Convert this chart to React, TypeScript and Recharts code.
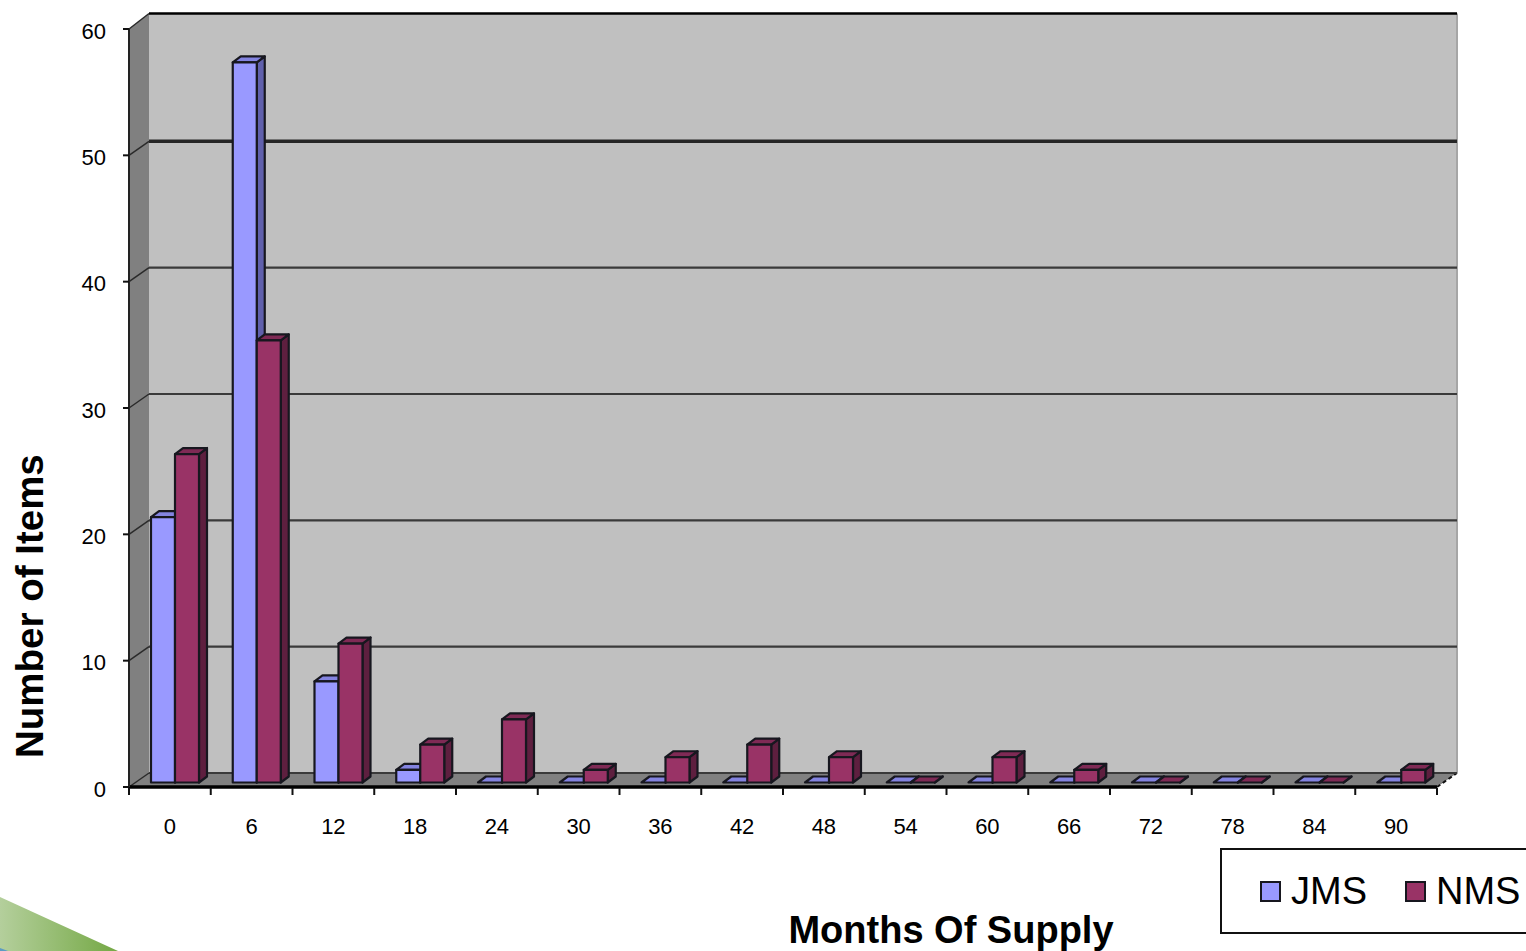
import { BarChart, Bar, XAxis, YAxis, Legend, ReferenceArea, ReferenceLine } from 'recharts';

const months = ['0', '6', '12', '18', '24', '30', '36', '42', '48', '54', '60', '66', '72', '78', '84', '90'];
const jms = [21, 57, 8, 1, 0, 0, 0, 0, 0, 0, 0, 0, 0, 0, 0, 0];
const nms = [26, 35, 11, 3, 5, 1, 2, 3, 2, 0, 2, 1, 0, 0, 0, 1];
const yTicks = [0, 10, 20, 30, 40, 50, 60];

const data = months.map((month, i) => ({ month, JMS: jms[i], NMS: nms[i] }));

const FONT = '"Liberation Sans", Arial, sans-serif';
const WIDTH = 1526;
const HEIGHT = 951;
const PLOT_LEFT = 129;
const PLOT_RIGHT = 1437;
const BAND = (PLOT_RIGHT - PLOT_LEFT) / months.length;

// depth of the chart box, and of a bar standing inside it
const WALL_DX = 20;
const WALL_DY = -14;
const TOP_DY = -15.5;
const BAR_DX = 8;
const BAR_DY = -6;
const BAR_SHIFT_X = 5;
const BAR_SHIFT_Y = -4.5;

const pts = (...p: number[][]) => p.map((q) => q.join(',')).join(' ');

const Box3D = ({ x, y, width, height }: any) => {
  const right = x + width;
  const bottom = y + height;
  return (
    <g>
      <polygon points={pts([x + WALL_DX, y + TOP_DY], [right + WALL_DX, y + TOP_DY], [right + WALL_DX, bottom + WALL_DY], [x + WALL_DX, bottom + WALL_DY])} fill="#c0c0c0" />
      <polygon points={pts([x, y], [x + WALL_DX, y + TOP_DY], [x + WALL_DX, bottom + WALL_DY], [x, bottom])} fill="#808080" />
      <polygon points={pts([x, bottom], [x + WALL_DX, bottom + WALL_DY], [right + WALL_DX, bottom + WALL_DY], [right, bottom])} fill="#808080" />
      <line x1={right + WALL_DX} y1={y + TOP_DY} x2={right + WALL_DX} y2={bottom + WALL_DY} stroke="#a6a6a6" strokeWidth={2} />
      <line x1={right} y1={bottom} x2={right + WALL_DX} y2={bottom + WALL_DY} stroke="#111" strokeWidth={2} strokeDasharray="4 3" />
    </g>
  );
};

// one gridline: runs back across the side wall, then along the rear wall
const gridLine = (value: number) => ({ x1, y1, x2 }: any) => {
  const dy = value === 60 ? TOP_DY : WALL_DY;
  const color = value === 60 ? '#000' : value === 50 ? '#262626' : '#3a3a3a';
  const w = value === 60 ? 2.5 : value === 50 ? 3.5 : 2.2;
  return (
    <g>
      <line x1={x1} y1={y1} x2={x1 + WALL_DX} y2={y1 + dy} stroke="#2a2a2a" strokeWidth={1.5} />
      <line x1={x1 + WALL_DX} y1={y1 + dy} x2={x2 + WALL_DX} y2={y1 + dy} stroke={color} strokeWidth={w} />
    </g>
  );
};

const Bar3D = ({ x, y, width, height, fill, topFill, sideFill }: any) => {
  const x0 = x + BAR_SHIFT_X;
  const y0 = y + BAR_SHIFT_Y;
  const x1 = x0 + width;
  const y1 = y0 + height;
  const edge = { stroke: '#17171f', strokeWidth: 2.2, strokeLinejoin: 'round' as const };
  return (
    <g>
      <polygon points={pts([x1, y0], [x1 + BAR_DX, y0 + BAR_DY], [x1 + BAR_DX, y1 + BAR_DY], [x1, y1])} fill={sideFill} {...edge} />
      <polygon points={pts([x0, y0], [x0 + BAR_DX, y0 + BAR_DY], [x1 + BAR_DX, y0 + BAR_DY], [x1, y0])} fill={topFill} {...edge} />
      {height > 0 && <rect x={x0} y={y0} width={width} height={height} fill={fill} {...edge} />}
    </g>
  );
};

// category labels sit mid-band, tick marks on the band edges
const XTick = ({ x, payload, index }: any) => (
  <g>
    {index === 0 && <line x1={x - BAND / 2} y1={788} x2={x - BAND / 2} y2={795} stroke="#111" strokeWidth={2} />}
    <line x1={x + BAND / 2} y1={788} x2={x + BAND / 2} y2={795} stroke="#111" strokeWidth={2} />
    <text x={x} y={834} textAnchor="middle" fontSize={22} fontFamily={FONT} fill="#000">
      {payload.value}
    </text>
  </g>
);

const YTick = ({ x, y, payload }: any) => (
  <text x={x} y={y + 9.5} textAnchor="end" fontSize={22} fontFamily={FONT} fill="#000">
    {payload.value}
  </text>
);

const LegendBox = ({ payload }: any) => (
  <div
    style={{
      boxSizing: 'border-box',
      width: 320,
      height: 86,
      border: '2px solid #111',
      background: '#fff',
      display: 'flex',
      alignItems: 'center',
      paddingLeft: 38,
      fontFamily: FONT,
      fontSize: 38,
      color: '#000',
    }}
  >
    {(payload || []).map((entry: any, i: number) => (
      <div key={entry.value} style={{ display: 'flex', alignItems: 'center', marginLeft: i === 0 ? 0 : 38 }}>
        <span style={{ boxSizing: 'border-box', width: 21, height: 21, background: entry.color, border: '2px solid #17171f', marginRight: i === 0 ? 10 : 10 }} />
        <span>{entry.value}</span>
      </div>
    ))}
  </div>
);

const Swoosh = () => (
  <svg width={130} height={60} style={{ position: 'absolute', left: 0, top: HEIGHT - 60 }}>
    <defs>
      <linearGradient id="swoosh" x1="0" x2="1" y1="0" y2="0">
        <stop offset="0" stopColor="#b4cf9c" />
        <stop offset="1" stopColor="#74a844" />
      </linearGradient>
    </defs>
    <polygon points="0,6 118,60 0,60" fill="url(#swoosh)" />
    <polygon points="0,57 8,60 0,60" fill="#5b9bc4" />
  </svg>
);

export default function App() {
  return (
    <div style={{ position: 'absolute', left: 0, top: 0, width: WIDTH, height: HEIGHT, overflow: 'hidden', background: '#fff' }}>
      <Swoosh />
      <BarChart width={WIDTH} height={HEIGHT} data={data} margin={{ top: 29, right: WIDTH - PLOT_RIGHT, bottom: 0, left: 0 }} barSize={24} barGap={0} style={{ position: 'absolute' }}>
        <ReferenceArea y1={0} y2={60} shape={Box3D} ifOverflow="visible" />
        {yTicks.map((t) => (
          <ReferenceLine key={t} y={t} shape={gridLine(t)} ifOverflow="visible" zIndex={200} />
        ))}
        <XAxis
          dataKey="month"
          height={164}
          interval={0}
          tickLine={false}
          tick={XTick}
          axisLine={{ stroke: '#000', strokeWidth: 3.5 }}
          label={{ value: 'Months Of Supply', position: 'insideBottom', offset: 8, dx: 168, fontSize: 38, fontWeight: 700, fontFamily: FONT, fill: '#000' }}
        />
        <YAxis
          width={PLOT_LEFT}
          domain={[0, 60]}
          ticks={yTicks}
          interval={0}
          tickSize={6}
          tickMargin={17}
          tick={YTick}
          tickLine={{ stroke: '#111', strokeWidth: 2 }}
          axisLine={{ stroke: '#222', strokeWidth: 2 }}
          label={{ value: 'Number of Items', angle: -90, position: 'insideLeft', offset: 0, dx: 29, dy: 350, fontSize: 38.5, fontWeight: 700, fontFamily: FONT, fill: '#000' }}
        />
        <Legend
          layout="vertical"
          align="center"
          verticalAlign="middle"
          content={LegendBox}
          wrapperStyle={{ position: 'absolute', left: 1220, top: 848, width: 320, height: 86 }}
        />
        <Bar dataKey="JMS" name="JMS" fill="#9999ff" isAnimationActive={false} shape={(p: any) => <Bar3D {...p} topFill="#8383e0" sideFill="#6060ac" />} />
        <Bar dataKey="NMS" name="NMS" fill="#993366" isAnimationActive={false} shape={(p: any) => <Bar3D {...p} topFill="#7f2a55" sideFill="#5e1f3f" />} />
      </BarChart>
    </div>
  );
}
